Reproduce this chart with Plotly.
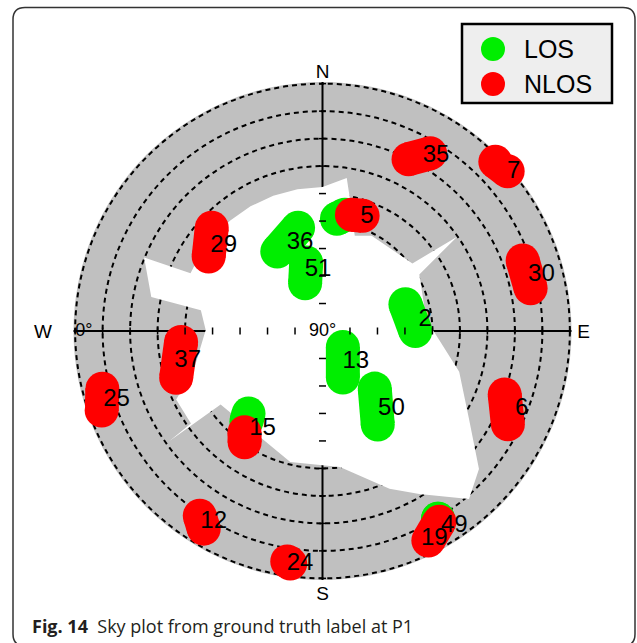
import plotly.graph_objects as go

W, H = 637, 643

# ---------------- data ----------------
# Open-sky (LOS) region boundary: azimuth (deg, clockwise from N), elevation (deg)
mask_az = [0, 9.0, 11.6, 18.7, 27.3, 53.1, 55.0, 59.7, 84.0, 94.4, 106.6, 121.1,
           131.4, 138.9, 149.3, 157.0, 172.7, 193.8, 234.2, 234.3, 234.9, 244.9,
           253.2, 270.5, 279.7, 281.2, 292.4, 293.6, 300, 310, 320, 330, 340, 350, 360]
mask_el = [37.6, 33.6, 40.6, 53.4, 51.0, 49.1, 30.2, 49.2, 52.0, 47.4, 38.1, 27.7,
           14.1, 8.9, 21.0, 27.6, 40.1, 40.9, 44.3, 21.3, 31.5, 31.2,
           41.1, 47.5, 45.1, 26.5, 19.8, 37.6, 37.6, 37.6, 37.6, 37.6, 37.6, 37.6, 37.6]

# Satellite tracks
track_prn = ['5', '36', '51', '2', '13', '50', '15', '49',
             '35', '7', '30', '5', '29', '15', '37', '25', '12', '24', '6', '19']
track_status = ['LOS'] * 8 + ['NLOS'] * 12
track_az = [[7.3, 10.9], [330.4, 346.7], [346.6, 340.0], [72.1, 90.0], [128.0, 156.4],
            [137.8, 149.4], [221.9, 220.1], [148.4, 148.4],
            [26.6, 31.2], [45.6, 49.2], [70.6, 78.4], [14.2, 19.2], [313.0, 303.2],
            [217.6, 215.0], [265.6, 252.3], [255.3, 250.2], [213.6, 211.0],
            [188.7, 187.9], [109.2, 116.7], [153.2, 148.5]]
track_el = [[48.8, 46.9], [56.7, 51.4], [64.4, 71.5], [58.3, 56.2], [80.6, 71.5],
            [61.7, 50.5], [49.7, 47.0], [9.8, 9.8],
            [20.1, 14.4], [2.0, 1.0], [12.8, 12.7], [46.4, 45.6], [34.9, 40.5],
            [43.5, 40.6], [38.4, 34.1], [7.2, 4.6], [9.3, 6.1],
            [5.2, 4.6], [19.8, 14.5], [4.6, 8.6]]

# PRN label positions
label_prn = ['35', '7', '30', '5', '36', '51', '29', '2', '13', '50', '15',
             '37', '25', '12', '24', '6', '49', '19']
label_az = [33.0, 50.2, 75.7, 21.2, 345.8, 355.8, 310.8, 83.9, 132.8, 138.7, 211.4,
            257.3, 251.6, 209.7, 185.5, 111.5, 145.9, 151.7]
label_el = [14.1, -0.5, 7.8, 45.4, 56.8, 67.9, 42.5, 52.4, 73.5, 52.0, 48.1,
            39.7, 11.0, 10.1, 4.7, 12.1, 4.5, 4.2]

ring_el = [0, 10, 20, 30, 40, 50, 60, 70, 80]
compass_az = [0, 90, 180, 270]
compass_text = ['N', '&nbsp;E', 'S', 'W&nbsp;&nbsp;&nbsp;&nbsp;']
legend_names = ['LOS', 'NLOS']

# ---------------- style ----------------
COL = {'LOS': '#00ee00', 'NLOS': '#ff0000'}
GRAY = '#c0c0c0'
TW = 34
FONT = 'Liberation Sans, Arial, sans-serif'


def px(x):
    return x / W


def py(y):
    return 1 - y / H


fig = go.Figure()

# open-sky region
fig.add_trace(go.Scatterpolar(r=mask_el, theta=mask_az, mode='lines', fill='toself',
                              fillcolor='white', line=dict(width=0, color='white'),
                              hoverinfo='skip', showlegend=False))

# tracks, LOS first then NLOS on top
for status in legend_names:
    for prn, st, az, el in zip(track_prn, track_status, track_az, track_el):
        if st != status:
            continue
        fig.add_trace(go.Scatterpolar(
            r=el, theta=az, mode='lines+markers',
            line=dict(color=COL[st], width=TW),
            marker=dict(color=COL[st], size=TW, line=dict(width=0)),
            cliponaxis=False, hoverinfo='skip', showlegend=False))

# axis tick marks on the cross
for a in compass_az:
    fig.add_trace(go.Scatterpolar(
        r=ring_el, theta=[a] * len(ring_el), mode='markers',
        marker=dict(symbol='line-ew' if a in (0, 180) else 'line-ns', size=5,
                    line=dict(color='black', width=1.5)),
        cliponaxis=False, hoverinfo='skip', showlegend=False))

# PRN labels
fig.add_trace(go.Scatterpolar(
    r=label_el, theta=label_az, mode='text', text=label_prn,
    textposition='middle center', textfont=dict(family=FONT, size=24, color='black'),
    cliponaxis=False, hoverinfo='skip', showlegend=False))

# elevation labels
fig.add_trace(go.Scatterpolar(
    r=[ring_el[0]], theta=[270], mode='text', text=['0°'], textposition='middle right',
    textfont=dict(family=FONT, size=18, color='black'), cliponaxis=False,
    hoverinfo='skip', showlegend=False))
fig.add_trace(go.Scatterpolar(
    r=[90], theta=[0], mode='text', text=['90°'], textposition='middle center',
    textfont=dict(family=FONT, size=18, color='black'), cliponaxis=False,
    hoverinfo='skip', showlegend=False))

fig.update_layout(
    width=W, height=H, margin=dict(l=0, r=0, t=0, b=0, pad=0),
    paper_bgcolor='white', showlegend=False,
    polar=dict(
        domain=dict(x=[px(73.5), px(571.5)], y=[py(580), py(82)]),
        bgcolor=GRAY,
        angularaxis=dict(rotation=90, direction='clockwise', tickmode='array',
                         tickvals=compass_az, ticktext=compass_text, ticks='',
                         tickfont=dict(family=FONT, size=19, color='black'),
                         showline=False, showgrid=True, gridcolor='black', gridwidth=1.5,
                         layer='above traces'),
        radialaxis=dict(range=[90, -0.6], tickmode='array', tickvals=ring_el,
                        showticklabels=False, ticks='', showline=False, angle=180,
                        gridcolor='black', gridwidth=1.6, griddash='5px,4px',
                        layer='above traces'),
    ),
)

# frame
r = 12
L, T, R, B = 13, 7.5, 635, 646
frame = (f"M {px(L)},{py(T + r)} Q {px(L)},{py(T)} {px(L + r)},{py(T)} "
         f"L {px(R - r)},{py(T)} Q {px(R)},{py(T)} {px(R)},{py(T + r)} "
         f"L {px(R)},{py(B - r)} Q {px(R)},{py(B)} {px(R - r)},{py(B)} "
         f"L {px(L + r)},{py(B)} Q {px(L)},{py(B)} {px(L)},{py(B - r)} Z")
fig.add_shape(type='path', path=frame, xref='paper', yref='paper',
              line=dict(color='#333333', width=1.5))

# legend box
fig.add_shape(type='rect', xref='paper', yref='paper', x0=px(462), x1=px(612),
              y0=py(103), y1=py(24), fillcolor='#eeeeee', line=dict(color='black', width=2.5))
for i, name in enumerate(legend_names):
    cy = 49 + 35 * i
    fig.add_shape(type='circle', xref='paper', yref='paper', x0=px(481), x1=px(505),
                  y0=py(cy + 12), y1=py(cy - 12), fillcolor=COL[name], line=dict(width=0))
    fig.add_annotation(x=px(522), y=py(cy), xref='paper', yref='paper', text=name,
                       showarrow=False, xanchor='left', yanchor='middle',
                       font=dict(family=FONT, size=25, color='black'))

# caption
fig.add_annotation(x=px(30), y=py(626), xref='paper', yref='paper',
                   text='<b>Fig. 14</b>&nbsp; Sky plot from ground truth label at P1',
                   showarrow=False, xanchor='left', yanchor='middle',
                   font=dict(family='Open Sans, sans-serif', size=18, color='#231f20'))

fig.write_html('out.html', config={'displayModeBar': False},
               post_script="document.body.style.margin='0px';")
